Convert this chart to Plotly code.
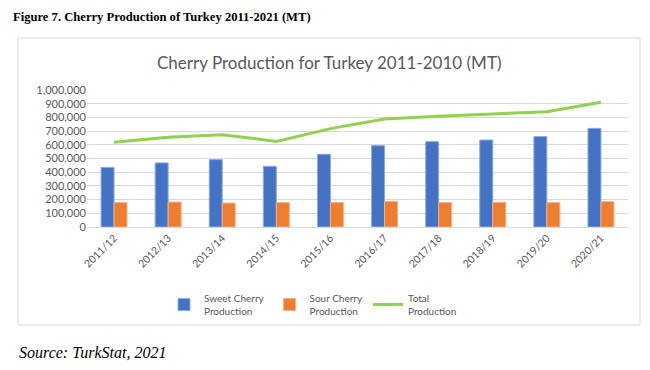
import plotly.graph_objects as go

seasons = ["2011/12", "2012/13", "2013/14", "2014/15", "2015/16",
           "2016/17", "2017/18", "2018/19", "2019/20", "2020/21"]
sweet = [435000, 468000, 492000, 443000, 531000, 594000, 623000, 635000, 660000, 720000]
sour = [178000, 182000, 175000, 178000, 178000, 187000, 178000, 180000, 178000, 185000]
total = [618000, 655000, 674000, 625000, 718000, 788000, 808000, 825000, 842000, 910000]
y_ticks = [0, 100000, 200000, 300000, 400000, 500000, 600000, 700000, 800000, 900000, 1000000]

fig = go.Figure()
fig.add_trace(go.Bar(x=seasons, y=sweet, name="Sweet Cherry<br>Production",
                     marker=dict(color="#4472C4", line=dict(color="#8FAADC", width=1))))
fig.add_trace(go.Bar(x=seasons, y=sour, name="Sour Cherry<br>Production",
                     marker=dict(color="#ED7D31", line=dict(color="#F4B183", width=1))))
fig.add_trace(go.Scatter(x=seasons, y=total, name="Total<br>Production", mode="lines",
                         line=dict(color="#92D050", width=3)))

W, H = 650, 370
L, R, T, B = 87, 22, 90, 143
pw, ph = W - L - R, H - T - B

def px(x):
    return (x - L) / pw

def py(y):
    return (H - B - y) / ph

fig.update_layout(
    width=W, height=H,
    margin=dict(l=L, r=R, t=T, b=B, autoexpand=False),
    paper_bgcolor="white", plot_bgcolor="white",
    barmode="group", bargap=0.52, bargroupgap=0,
    showlegend=True,
    legend=dict(orientation="h", x=px(313), xanchor="center", y=py(285), yanchor="top",
                font=dict(family="Lato", size=10, color="#595959"),
                itemwidth=30, traceorder="normal"),
    font=dict(family="Lato", color="#595959"),
    xaxis=dict(tickangle=-45, tickfont=dict(size=10.5, color="#595959"),
               showline=True, linecolor="#d9d9d9", linewidth=1, showgrid=False,
               ticks="", fixedrange=True),
    yaxis=dict(range=[0, 1000000], tickvals=y_ticks, tickformat=",d",
               tickfont=dict(size=11, color="#595959"),
               showgrid=True, gridcolor="#d9d9d9", gridwidth=1,
               zeroline=False, showline=False, ticks="", ticklen=0, fixedrange=True),
    shapes=[dict(type="rect", xref="paper", yref="paper",
                 x0=px(18), x1=px(640), y0=py(325), y1=py(38),
                 line=dict(color="#d9d9d9", width=1), fillcolor="rgba(0,0,0,0)", layer="below")],
    annotations=[
        dict(text="<b>Figure 7. Cherry Production of Turkey 2011-2021 (MT)</b>",
             xref="paper", yref="paper", x=px(11), y=py(17), xanchor="left", yanchor="middle",
             showarrow=False, font=dict(family="Liberation Serif", size=12.6, color="black")),
        dict(text="Cherry Production for Turkey 2011-2010 (MT)",
             xref="paper", yref="paper", x=px(329), y=py(63), xanchor="center", yanchor="middle",
             showarrow=False, font=dict(family="Lato", size=17, color="#595959")),
        dict(text="<i>Source: TurkStat, 2021</i>",
             xref="paper", yref="paper", x=px(17), y=py(352), xanchor="left", yanchor="middle",
             showarrow=False, font=dict(family="Liberation Serif", size=16, color="black")),
    ],
)

fig.write_html("out.html", config={"displayModeBar": False},
               post_script="document.body.style.margin='0';document.body.style.overflow='hidden';")
